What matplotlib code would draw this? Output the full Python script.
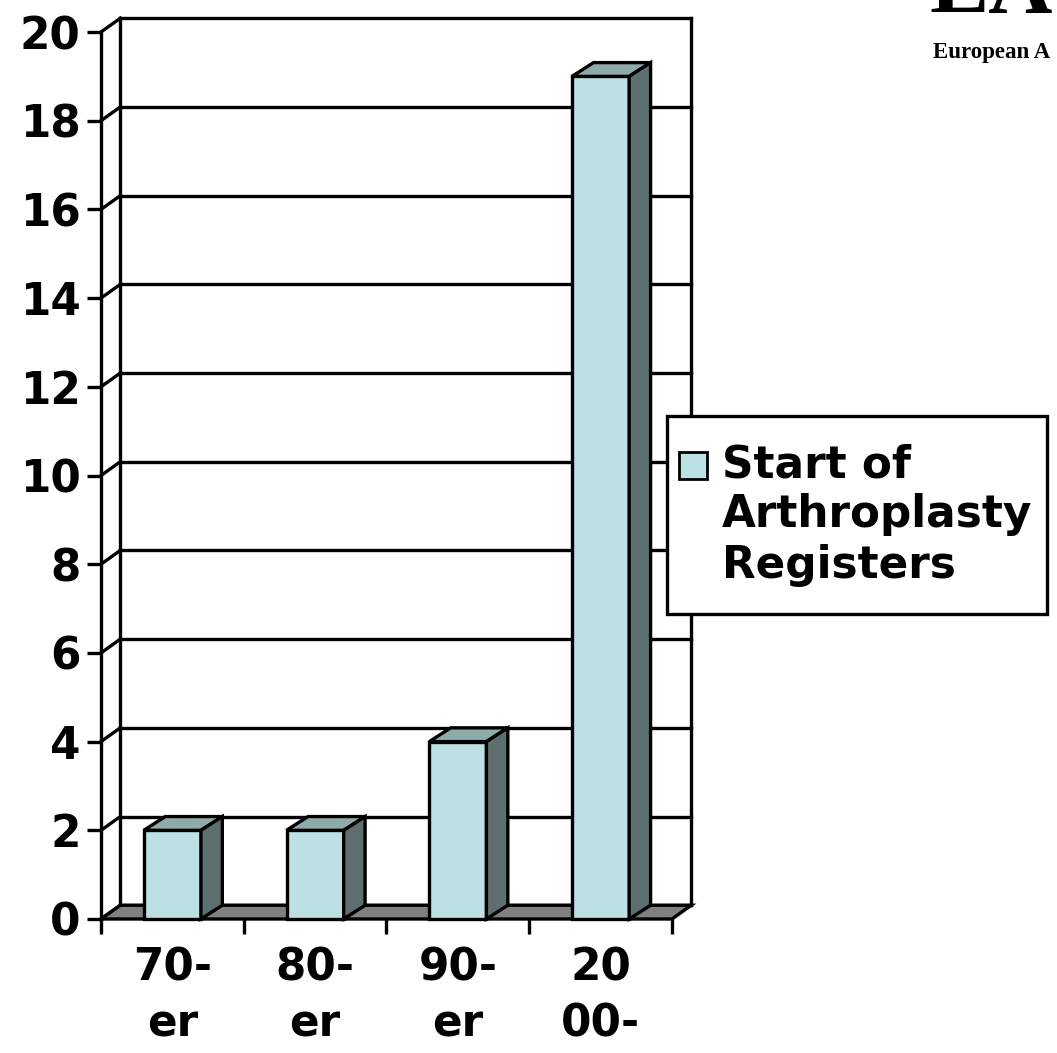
import matplotlib
matplotlib.use("Agg")
import matplotlib.pyplot as plt
from matplotlib.patches import Polygon, Rectangle

# ---- data ----
categories = ["70-\ner", "80-\ner", "90-\ner", "20\n00-"]
values = [2, 2, 4, 19]
y_ticks = [0, 2, 4, 6, 8, 10, 12, 14, 16, 18, 20]
series_label = "Start of\nArthroplasty\nRegisters"

# ---- style ----
FRONT = "#BCE0E3"
TOP = "#8FAAAB"
SIDE = "#5E6F70"
FLOOR = "#808080"
LW = 2.4
DX, DY = 0.135, 0.31    # wall depth offset in data units
DXB = 0.15              # bar depth (x) in data units
BAR_W = 0.4
FS = 31.5

plt.rcParams['font.family'] = ['DejaVu Sans']

W, H = 1057, 1053
fig = plt.figure(figsize=(W / 100, H / 100), dpi=100)
ax = fig.add_axes([101 / W, (H - 919) / H, 571 / W, 887 / H])
n = len(categories)
ax.set_xlim(0, n)
ax.set_ylim(0, 20)
ax.patch.set_visible(False)

# walls & gridlines
for y in y_ticks:
    ax.plot([DX, n + DX], [y + DY, y + DY], color="black", lw=LW, zorder=1, clip_on=False,
            solid_capstyle="projecting")
    ax.plot([0, DX], [y, y + DY], color="black", lw=LW, zorder=1, clip_on=False)
ax.plot([DX, DX], [DY, 20 + DY], color="black", lw=LW, zorder=1, clip_on=False)
ax.plot([n + DX, n + DX], [DY, 20 + DY], color="black", lw=LW, zorder=1, clip_on=False)

# floor
ax.add_patch(Polygon([(0, 0), (n, 0), (n + DX, DY), (DX, DY)], closed=True,
                     facecolor=FLOOR, edgecolor="black", lw=LW, zorder=2, clip_on=False))

# bars
for i, v in enumerate(values):
    x0 = i + 0.5 - BAR_W / 2
    x1 = x0 + BAR_W
    ax.bar(i + 0.5, v, width=BAR_W, color=FRONT, edgecolor="black", lw=LW,
           zorder=3 + i * 3, clip_on=False)
    ax.add_patch(Polygon([(x0, v), (x1, v), (x1 + DXB, v + DY), (x0 + DXB, v + DY)],
                         closed=True, facecolor=TOP, edgecolor="black", lw=LW,
                         zorder=4 + i * 3, clip_on=False))
    ax.add_patch(Polygon([(x1, 0), (x1 + DXB, DY), (x1 + DXB, v + DY), (x1, v)],
                         closed=True, facecolor=SIDE, edgecolor="black", lw=LW,
                         zorder=4 + i * 3, clip_on=False))

# spines / axes
for s in ["top", "right", "bottom"]:
    ax.spines[s].set_visible(False)
ax.spines["left"].set_linewidth(LW)
ax.spines["left"].set_zorder(20)

ax.set_yticks(y_ticks)
ax.set_yticklabels([str(t) for t in y_ticks], fontsize=FS, fontweight="bold")
ax.tick_params(axis="y", direction="out", length=10, width=LW, pad=4.5)

ax.set_xticks(range(n + 1))
ax.set_xticklabels([])
ax.tick_params(axis="x", which="major", direction="out", length=11, width=LW)
ax.set_xticks([i + 0.5 for i in range(n)], minor=True)
ax.set_xticklabels(categories, minor=True, fontsize=FS, fontweight="bold", linespacing=1.36)
ax.tick_params(axis="x", which="minor", length=0, pad=20)

# legend (drawn manually to match the original layout)
fig.patches.append(Rectangle((667 / W, (H - 614) / H), 380 / W, 198 / H,
                             transform=fig.transFigure, facecolor="white",
                             edgecolor="black", lw=LW, zorder=30))
fig.patches.append(Rectangle((679 / W, (H - 479) / H), 28 / W, 27 / H,
                             transform=fig.transFigure, facecolor=FRONT,
                             edgecolor="black", lw=2, zorder=31))
fig.text(722 / W, (H - 443) / H, series_label, fontsize=FS, fontweight="bold",
         va="top", ha="left", linespacing=1.22, zorder=32)

# logo fragment top right
fig.text(929 / W, (H - 12) / H, "EA", family="Liberation Serif", fontweight="bold",
         fontsize=64, va="baseline", ha="left")
fig.text(933 / W, (H - 58) / H, "European A", family="Liberation Serif", fontweight="bold",
         fontsize=16.5, va="baseline", ha="left")

fig.savefig("out.png", dpi=100)
